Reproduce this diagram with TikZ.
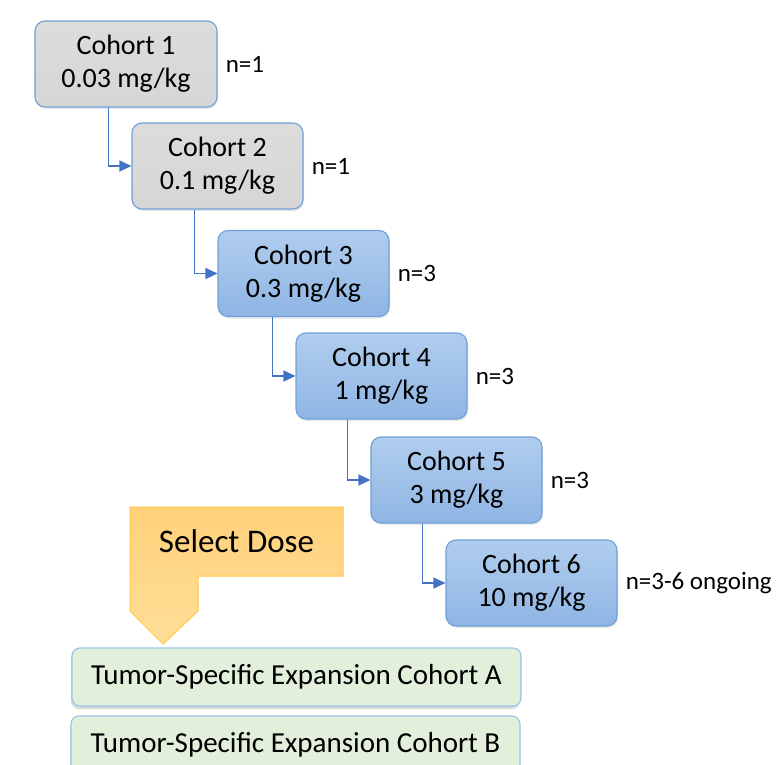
\documentclass[tikz,border=0pt]{standalone}
\usepackage{fontspec}
\setmainfont{Carlito}
\usetikzlibrary{arrows.meta,positioning,calc,shadows}

\definecolor{blueline}{RGB}{110,160,215}
\definecolor{bluetop}{RGB}{176,205,238}
\definecolor{bluebot}{RGB}{143,181,228}
\definecolor{greytop}{RGB}{220,220,220}
\definecolor{greybot}{RGB}{214,214,214}
\definecolor{arrowblue}{RGB}{68,114,196}
\definecolor{greenfill}{RGB}{226,239,218}
\definecolor{greenline}{RGB}{157,195,230}
\definecolor{dosetop}{RGB}{255,209,122}
\definecolor{dosebot}{RGB}{255,222,152}
\definecolor{doseline}{RGB}{255,200,70}

\begin{document}
\begin{tikzpicture}[x=1pt, y=-1pt, node distance=6pt,
    cohort/.style={draw=blueline, line width=1.1pt, rounded corners=10pt, align=center,
        minimum width=171pt, minimum height=86pt, top color=bluetop, bottom color=bluebot,
        font=\fontsize{28}{33}\selectfont,
        drop shadow={shadow xshift=1pt, shadow yshift=-2pt, opacity=.18}},
    early/.style={cohort, top color=greytop, bottom color=greybot},
    ncount/.style={font=\fontsize{25}{29}\selectfont, inner sep=2pt},
    expansion/.style={draw=greenline, line width=1.1pt, rounded corners=8pt, fill=greenfill,
        minimum width=449pt, minimum height=58pt, font=\fontsize{29}{33}\selectfont,
        drop shadow={shadow xshift=-1pt, shadow yshift=-3pt, opacity=.3}},
    arr/.style={draw=arrowblue, line width=1.1pt, -{Triangle[length=12pt,width=11pt]}}]
    \useasboundingbox (0,0) rectangle (782,765);

    % dose escalation steps
    \node[early, minimum width=182pt] (c1) at (126,64) {Cohort 1\\0.03 mg/kg};
    \node[early] (c2) at (217.5,166) {Cohort 2\\0.1 mg/kg};
    \node[cohort] (c3) at (303.5,273.5) {Cohort 3\\0.3 mg/kg};
    \node[cohort] (c4) at (381.5,376) {Cohort 4\\1 mg/kg};
    \node[cohort] (c5) at (456.5,480) {Cohort 5\\3 mg/kg};
    \node[cohort] (c6) at (531.5,583) {Cohort 6\\10 mg/kg};

    \node[ncount, right=of c1] (n1) {n=1};
    \node[ncount, right=of c2] (n2) {n=1};
    \node[ncount, right=of c3] (n3) {n=3};
    \node[ncount, right=of c4] (n4) {n=3};
    \node[ncount, right=of c5] (n5) {n=3};
    \node[ncount, right=of c6] (n6) {n=3-6 ongoing};

    \foreach \a/\b in {c1/c2, c2/c3, c3/c4, c4/c5, c5/c6}
        \draw[arr] ($(\b.west |- \a.south)+(-23,0)$) |- (\b.west);

    % select dose callout
    \path[draw=doseline, line width=1pt, top color=dosetop, bottom color=dosebot]
        (130,507) -- (343,507) -- (343,576) -- (198,576) -- (198,611)
        -- (163,644) -- (130,611) -- cycle;
    \node[font=\fontsize{33}{37}\selectfont] (dose) at (236.5,541.5) {Select Dose};

    % expansion cohorts
    \node[expansion] (expA) at (296.5,677) {Tumor-Specific Expansion Cohort A};
    \node[expansion] (expB) at (295.5,745) {Tumor-Specific Expansion Cohort B};
\end{tikzpicture}
\end{document}
